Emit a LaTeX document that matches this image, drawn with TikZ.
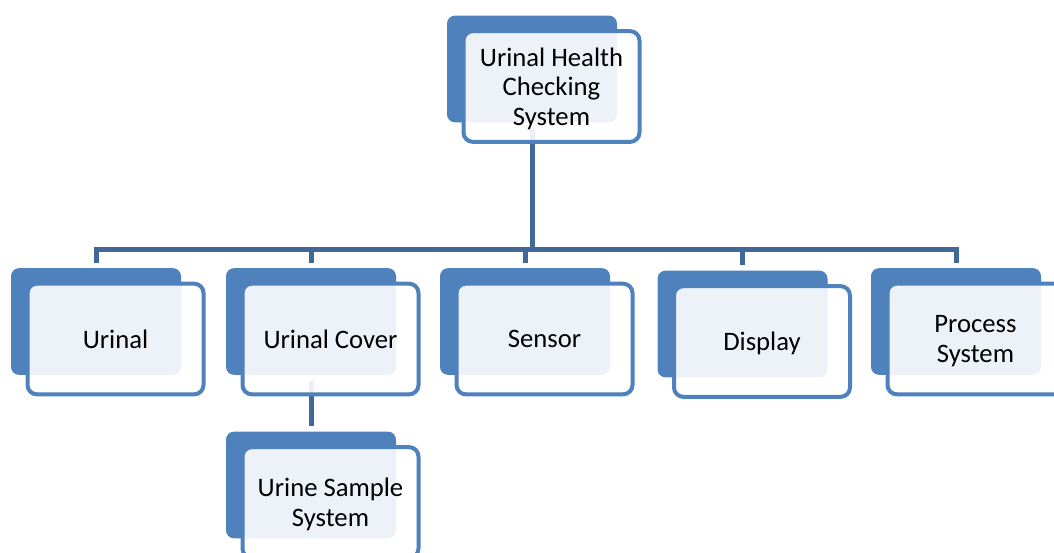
\documentclass[tikz,border=0pt]{standalone}
\usepackage{fontspec}
\setmainfont{Carlito}
\usepackage{tikz}
\usetikzlibrary{positioning,calc,backgrounds}
\definecolor{chartblue}{RGB}{79,129,189}
\definecolor{linkblue}{RGB}{64,104,153}

\begin{document}
\begin{tikzpicture}[
    x=0.75pt, y=-0.75pt,
    backbox/.style={fill=chartblue, rounded corners=6pt, minimum width=127.5pt, minimum height=80pt, inner sep=0pt},
    frontbox/.style={draw=chartblue, line width=3pt, fill=white, fill opacity=0.9, text opacity=1, rounded corners=7pt,
        minimum width=132pt, minimum height=83pt, inner sep=0pt, align=center, font=\fontsize{20}{22.2}\selectfont,
        text depth=0pt},
    link/.style={draw=linkblue, line width=3.75pt, shorten <=4.5pt, shorten >=3.75pt}
]
\clip (0,0) rectangle (1054,553);
\useasboundingbox (0,0) rectangle (1054,553);

% top of the hierarchy
\node[backbox] (b0) at (532,69) {};
\node[frontbox] (f0) at ([shift={(19.5,17.5)}]b0) {Urinal Health\\Checking\\System};

% second level
\node[backbox] (b1) at (96,321.5) {};
\node[frontbox] (f1) at ([shift={(19.5,17.5)}]b1) {Urinal};

\node[backbox] (b2) at (311,321.5) {};
\node[frontbox] (f2) at ([shift={(19.5,17.5)}]b2) {Urinal Cover};

\node[backbox] (b3) at (525,321.5) {};
\node[frontbox] (f3) at ([shift={(19.5,17.5)}]b3) {Sensor};

\node[backbox] (b4) at (742.5,324) {};
\node[frontbox] (f4) at ([shift={(19.5,17.5)}]b4) {Display};

\node[backbox] (b5) at (956,321.5) {};
\node[frontbox] (f5) at ([shift={(19.5,17.5)}]b5) {Process\\System};

% third level
\node[backbox] (b6) at (311,485) {};
\node[frontbox] (f6) at ([shift={(19.5,17.5)}]b6) {Urine Sample\\System};

\coordinate (bus) at (532,249);

\begin{scope}[on background layer]
\draw[link] (b0.south) |- (bus) -| (b1.north);
\draw[link] (b0.south) |- (bus) -| (b2.north);
\draw[link] (b0.south) |- (bus) -| (b3.north);
\draw[link] (b0.south) |- (bus) -| (b4.north);
\draw[link] (b0.south) |- (bus) -| (b5.north);
\draw[link] (b2.south) -- (b6.north);
\end{scope}

\end{tikzpicture}
\end{document}
